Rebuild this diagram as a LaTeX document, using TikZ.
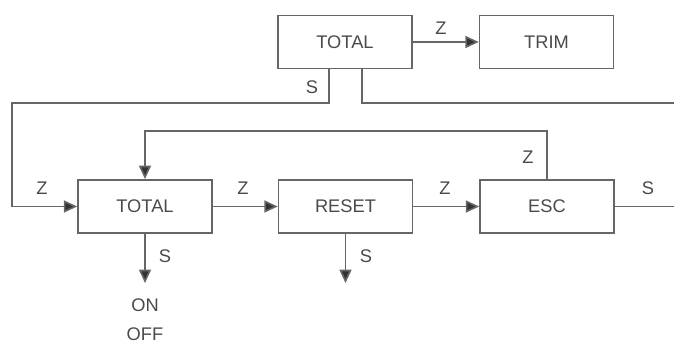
\documentclass[tikz,border=0pt]{standalone}
\usepackage{fontspec}
\setmainfont{Liberation Sans}
\usetikzlibrary{arrows.meta}
\definecolor{linegray}{HTML}{666666}
\definecolor{textgray}{HTML}{4A4A4A}
\definecolor{tipgray}{HTML}{333333}
\begin{document}
\begin{tikzpicture}[x=0.75pt,y=-0.75pt,
  box/.style={draw=linegray,line width=1.2pt,minimum width=100.5pt,minimum height=40pt,inner sep=0pt,text=textgray,font=\fontsize{13.7}{16}\selectfont},
  lbl/.style={text=textgray,font=\fontsize{13.7}{16}\selectfont,inner sep=0pt},
  conn/.style={draw=linegray,line width=1.2pt},
  arr/.style={conn,-{Triangle[length=10pt,width=9pt,fill=tipgray]}}]
\useasboundingbox (0,0) rectangle (674,345);
% boxes
\node[box] (top) at (345,42) {TOTAL};
\node[box] (trim) at (546.5,42) {TRIM};
\node[box] (tot) at (145,206.5) {TOTAL};
\node[box] (reset) at (345.5,206.5) {RESET};
\node[box] (esc) at (547,206.5) {ESC};
% free ends
\coordinate (rtop) at (674,103);
\coordinate (resc) at (674,206.5);
\coordinate (d1) at (145,283);
\coordinate (d2) at (345.5,283);
% connectors
\draw[arr] (top) -- (trim);
\draw[arr] (top.south -| 329,0) |- (12,103) |- (tot.west);
\draw[conn] (top.south -| 362,0) |- (rtop);
\draw[arr] (tot) -- (reset);
\draw[arr] (reset) -- (esc);
\draw[arr] (esc.north) |- (145,131) -- (tot.north);
\draw[conn] (esc.east) -- (resc);
\draw[arr] (tot.south) -- (d1);
\draw[arr] (reset.south) -- (d2);
% labels
\node[lbl] (z1) at (441,28) {Z};
\node[lbl] (s1) at (312,87) {S};
\node[lbl] (z2) at (42,188) {Z};
\node[lbl] (z3) at (243,188) {Z};
\node[lbl] (z4) at (445,188) {Z};
\node[lbl] (s2) at (648,188) {S};
\node[lbl] (z5) at (528,157) {Z};
\node[lbl] (s3) at (165,256) {S};
\node[lbl] (s4) at (366,256) {S};
\node[lbl] (on) at (145,305) {ON};
\node[lbl] (off) at (145,334) {OFF};
\end{tikzpicture}
\end{document}
